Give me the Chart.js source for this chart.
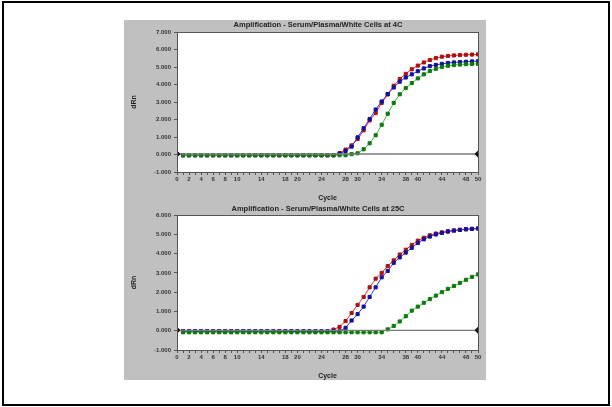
<!DOCTYPE html>
<html><head><meta charset="utf-8">
<script src="https://cdn.jsdelivr.net/npm/chart.js@4"></script>
<style>
html,body{margin:0;padding:0;background:#fff;width:612px;height:407px;overflow:hidden;}
#frame{position:absolute;left:2px;top:1px;width:608px;height:405px;border:2px solid #000;box-sizing:border-box;}
#panel{position:absolute;left:124px;top:20px;width:362px;height:360px;background:#c0c0c0;}
#c1{position:absolute;left:124px;top:20px;}
#c2{position:absolute;left:124px;top:204px;}
</style></head>
<body>
<div id="frame"></div>
<div id="panel"></div>
<canvas id="c1" width="362" height="184"></canvas>
<canvas id="c2" width="362" height="176"></canvas>
<script>
const cycles = [1,2,3,4,5,6,7,8,9,10,11,12,13,14,15,16,17,18,19,20,21,22,23,24,25,26,27,28,29,30,31,32,33,34,35,36,37,38,39,40,41,42,43,44,45,46,47,48,49,50];
const xTickLabels = [0,2,4,6,8,10,14,18,20,24,28,30,34,38,40,44,48,50];
const titleTop = "Amplification - Serum/Plasma/White Cells at 4C";
const titleBottom = "Amplification - Serum/Plasma/White Cells at 25C";
const xTitle = "Cycle";
const yTitle = "dRn";
const yRangeTop = [-1, 7];
const yRangeBottom = [-1, 6];
const thresholdX = [0, 50];
const thresholdTop = [0.03, 0.03];
const thresholdBottom = [0.02, 0.02];

const topRed = [-0.04,-0.04,-0.04,-0.04,-0.04,-0.04,-0.04,-0.04,-0.04,-0.04,-0.04,-0.04,-0.04,-0.04,-0.04,-0.04,-0.04,-0.04,-0.04,-0.04,-0.04,-0.04,-0.04,-0.04,-0.04,-0.04,
  0.08,0.28,0.52,0.88,1.38,1.95,2.37,2.95,3.43,3.93,4.31,4.61,4.87,5.08,5.26,5.40,5.51,5.59,5.63,5.66,5.68,5.70,5.71,5.72];
const topBlue = [-0.04,-0.04,-0.04,-0.04,-0.04,-0.04,-0.04,-0.04,-0.04,-0.04,-0.04,-0.04,-0.04,-0.04,-0.04,-0.04,-0.04,-0.04,-0.04,-0.04,-0.04,-0.04,-0.04,-0.04,-0.04,-0.04,
  0.04,0.20,0.45,0.98,1.50,2.03,2.57,3.03,3.46,3.83,4.16,4.40,4.58,4.76,4.92,5.05,5.12,5.18,5.23,5.26,5.28,5.30,5.32,5.33];
const topGreen = [-0.04,-0.04,-0.04,-0.04,-0.04,-0.04,-0.04,-0.04,-0.04,-0.04,-0.04,-0.04,-0.04,-0.04,-0.04,-0.04,-0.04,-0.04,-0.04,-0.04,-0.04,-0.04,-0.04,-0.04,-0.04,-0.04,-0.04,-0.04,
  0.02,0.07,0.30,0.64,1.10,1.70,2.33,2.95,3.44,3.80,4.08,4.35,4.58,4.77,4.90,5.01,5.07,5.11,5.14,5.16,5.17,5.18];

const botRed = [-0.03,-0.03,-0.03,-0.03,-0.03,-0.03,-0.03,-0.03,-0.03,-0.03,-0.03,-0.03,-0.03,-0.03,-0.03,-0.03,-0.03,-0.03,-0.03,-0.03,-0.03,-0.03,-0.03,-0.03,-0.03,
  0.06,0.20,0.50,0.92,1.34,1.75,2.25,2.70,3.00,3.35,3.65,3.95,4.20,4.45,4.67,4.82,4.95,5.04,5.10,5.16,5.20,5.23,5.26,5.28,5.30];
const botBlue = [-0.03,-0.03,-0.03,-0.03,-0.03,-0.03,-0.03,-0.03,-0.03,-0.03,-0.03,-0.03,-0.03,-0.03,-0.03,-0.03,-0.03,-0.03,-0.03,-0.03,-0.03,-0.03,-0.03,-0.03,-0.03,-0.03,-0.03,
  0.15,0.53,0.86,1.25,1.75,2.25,2.77,3.10,3.52,3.80,4.05,4.30,4.55,4.74,4.88,4.99,5.07,5.14,5.19,5.23,5.26,5.28,5.30];
const botGreen = [-0.08,-0.08,-0.08,-0.08,-0.08,-0.08,-0.08,-0.08,-0.08,-0.08,-0.08,-0.08,-0.08,-0.08,-0.08,-0.08,-0.08,-0.08,-0.08,-0.08,-0.08,-0.08,-0.08,-0.08,-0.08,-0.08,-0.08,-0.08,-0.08,-0.08,-0.08,-0.08,-0.08,-0.08,
  0.07,0.25,0.48,0.75,1.04,1.25,1.45,1.64,1.82,2.00,2.17,2.32,2.48,2.64,2.79,2.92];

const FONT = "'Liberation Sans', Arial, sans-serif";

const frameBox = {
  id: 'frameBox',
  beforeDatasetsDraw(chart) {
    const a = chart.chartArea, ctx = chart.ctx;
    ctx.save(); ctx.fillStyle = '#ffffff';
    ctx.fillRect(a.left, a.top, a.right - a.left, a.bottom - a.top);
    ctx.restore();
  },
  afterDatasetsDraw(chart) {
    const a = chart.chartArea, ctx = chart.ctx;
    ctx.save(); ctx.strokeStyle = '#555'; ctx.lineWidth = 1;
    ctx.strokeRect(Math.round(a.left) + 0.5, Math.round(a.top) + 0.5, Math.round(a.right - a.left), Math.round(a.bottom - a.top));
    ctx.restore();
  }
};

function series(vals) { return vals.map((v, i) => ({x: cycles[i], y: v})); }
function ds(vals, line, pt) {
  return {data: series(vals), borderColor: line, backgroundColor: pt, pointBorderColor: pt,
    pointBackgroundColor: pt, pointStyle: 'rect', pointRadius: 2.2, borderWidth: 1, tension: 0};
}
function thr(vals) {
  return {data: vals.map((v, i) => ({x: thresholdX[i], y: v})), borderColor: '#7a7a7a', borderWidth: 1.3,
    pointStyle: 'rectRot', pointRadius: 2.6, pointBackgroundColor: '#111', pointBorderColor: '#111'};
}

function makeChart(id, title, yr, red, blue, green, th, padTop, axisH, xTitlePad) {
  const titlePlugin = {
    id: 'ttl',
    afterDraw(chart) {
      const ctx = chart.ctx;
      ctx.save();
      ctx.font = "bold 7.5px " + FONT;
      ctx.fillStyle = '#222'; ctx.textAlign = 'center'; ctx.textBaseline = 'middle';
      ctx.fillText(title, 194, 4.5);
      ctx.restore();
    }
  };
  return new Chart(document.getElementById(id), {
    type: 'line',
    data: {datasets: [thr(th), ds(green, '#33cc33', '#117711'), ds(blue, '#3333ff', '#111199'), ds(red, '#ff2222', '#aa1111')]},
    options: {
      responsive: false, animation: false,
      layout: {padding: {top: padTop, right: 8, left: 0, bottom: 0}},
      plugins: {legend: {display: false}, tooltip: {enabled: false}, title: {display: false}},
      scales: {
        x: {
          type: 'linear', min: 0, max: 50,
          afterBuildTicks(s) { const t = []; for (let v = 0; v <= 50; v++) t.push({value: v}); s.ticks = t; },
          afterFit(s) { s.height = axisH; },
          ticks: {autoSkip: false, maxRotation: 0, padding: 1, color: '#333', font: {family: FONT, size: 6, weight: 'bold'},
            callback: v => xTickLabels.includes(v) ? String(v) : ''},
          grid: {drawOnChartArea: false, drawTicks: true, tickLength: 3, color: '#555'},
          border: {color: '#555'},
          title: {display: true, text: xTitle, color: '#222', font: {family: FONT, size: 7, weight: 'bold'}, padding: {top: 0, bottom: xTitlePad}}
        },
        y: {
          min: yr[0], max: yr[1],
          afterFit(s) { s.width = 53; },
          ticks: {stepSize: 1, padding: 3, color: '#333', font: {family: FONT, size: 6, weight: 'bold'}, callback: v => v.toFixed(3)},
          grid: {drawOnChartArea: false, drawTicks: true, tickLength: 3, color: '#555'},
          border: {color: '#555'},
          title: {display: true, text: yTitle, color: '#222', font: {family: FONT, size: 7, weight: 'bold'}, padding: {top: 6, bottom: 0}}
        }
      }
    },
    plugins: [frameBox, titlePlugin]
  });
}

makeChart('c1', titleTop, yRangeTop, topRed, topBlue, topGreen, thresholdTop, 12, 32, 2);
makeChart('c2', titleBottom, yRangeBottom, botRed, botBlue, botGreen, thresholdBottom, 11, 30, 0);
</script>
</body></html>
